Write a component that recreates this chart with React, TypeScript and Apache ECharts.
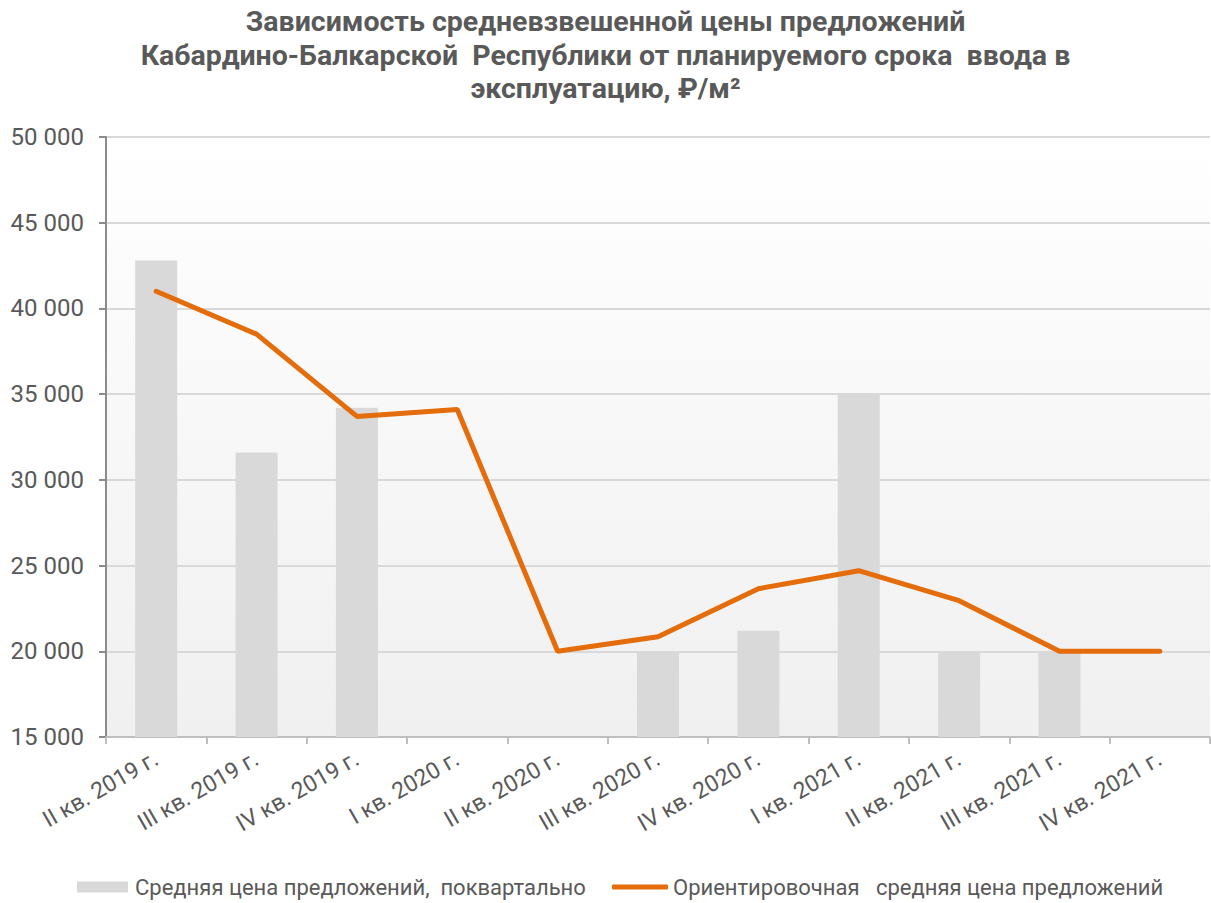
import React, { useEffect, useRef } from "react";
import * as echarts from "echarts";

const categories = [
  "II кв. 2019 г.",
  "III кв. 2019 г.",
  "IV кв. 2019 г.",
  "I кв. 2020 г.",
  "II кв. 2020 г.",
  "III кв. 2020 г.",
  "IV кв. 2020 г.",
  "I кв. 2021 г.",
  "II кв. 2021 г.",
  "III кв. 2021 г.",
  "IV кв. 2021 г.",
];

const barValues: (number | null)[] = [42800, 31600, 34200, null, null, 20000, 21200, 35000, 20000, 20000, null];
const lineValues = [41000, 38500, 33700, 34100, 20000, 20850, 23650, 24700, 22950, 20000, 20000];

const barName = "Средняя цена предложений,  поквартально";
const lineName = "Ориентировочная   средняя цена предложений";
const titleText =
  "Зависимость средневзвешенной цены предложений\nКабардино-Балкарской  Республики от планируемого срока  ввода в\nэксплуатацию, ₽/м²";

const fmt = (v: number) => String(v).replace(/\B(?=(\d{3})+(?!\d))/g, " ");

export default function App() {
  const ref = useRef<HTMLDivElement>(null);
  useEffect(() => {
    if (!ref.current) return;
    const chart = echarts.init(ref.current, undefined, { renderer: "svg" });
    chart.setOption({
      animation: false,
      backgroundColor: "#ffffff",
      title: {
        text: titleText,
        left: "center",
        top: 0,
        textStyle: {
          fontFamily: "Roboto",
          fontWeight: "bold",
          fontSize: 28.5,
          lineHeight: 33.5,
          color: "#595959",
        },
      },
      legend: [
        {
          left: 77,
          top: 876,
          padding: 0,
          itemWidth: 51,
          itemHeight: 11,
          textStyle: {
            fontFamily: "Roboto",
            fontSize: 22,
            lineHeight: 22,
            color: "#595959",
            padding: [0, 0, 0, 2],
          },
          data: [{ name: barName, icon: "rect", itemStyle: { color: "#d9d9d9" } }],
        },
        {
          left: 612,
          top: 876,
          padding: 0,
          itemWidth: 56,
          itemHeight: 5,
          textStyle: {
            fontFamily: "Roboto",
            fontSize: 22,
            lineHeight: 22,
            color: "#595959",
            padding: [0, 0, 0, 0],
          },
          data: [{ name: lineName, icon: "roundRect", itemStyle: { color: "#e46c0a" } }],
        },
      ],
      grid: {
        left: 106,
        right: 1,
        top: 137,
        bottom: 166,
        show: true,
        borderWidth: 0,
        backgroundColor: {
          type: "linear",
          x: 0,
          y: 0,
          x2: 0,
          y2: 1,
          colorStops: [
            { offset: 0, color: "#ffffff" },
            { offset: 1, color: "#f0f0f0" },
          ],
        },
      },
      xAxis: {
        type: "category",
        data: categories,
        axisLine: { lineStyle: { color: "#bfbfbf", width: 2 } },
        axisTick: { show: true, length: 7, lineStyle: { color: "#bfbfbf", width: 2 } },
        axisLabel: {
          rotate: 30,
          fontFamily: "Roboto",
          fontSize: 23,
          color: "#595959",
          margin: 20,
          interval: 0,
        },
      },
      yAxis: {
        type: "value",
        min: 15000,
        max: 50000,
        interval: 5000,
        axisLine: { show: true, lineStyle: { color: "#8c8c8c", width: 2 } },
        axisTick: { show: true, length: 7, lineStyle: { color: "#8c8c8c", width: 2 } },
        splitLine: { lineStyle: { color: "#d9d9d9", width: 2 } },
        axisLabel: {
          fontFamily: "Roboto",
          fontSize: 24,
          color: "#595959",
          margin: 22,
          formatter: (v: number) => fmt(v),
        },
      },
      series: [
        {
          name: barName,
          type: "bar",
          data: barValues,
          barWidth: 42,
          itemStyle: { color: "#d9d9d9" },
        },
        {
          name: lineName,
          type: "line",
          data: lineValues,
          symbol: "none",
          lineStyle: { color: "#e46c0a", width: 5, cap: "round" },
          itemStyle: { color: "#e46c0a" },
        },
      ],
    });
    return () => chart.dispose();
  }, []);
  return (
    <div style={{ position: "fixed", left: 0, top: 0, width: 1211, height: 903 }}>
      <div ref={ref} style={{ width: 1211, height: 903 }} />
    </div>
  );
}
